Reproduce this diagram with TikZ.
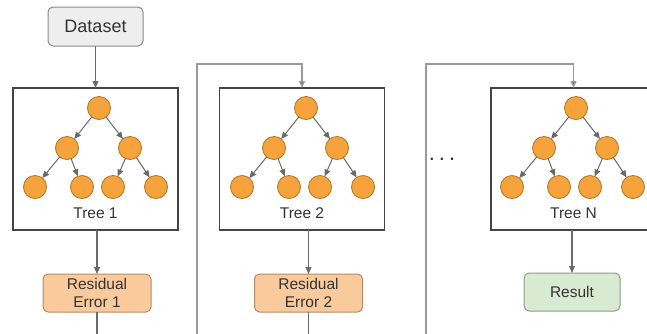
\documentclass[tikz,border=0pt]{standalone}
\usepackage{fontspec}
\setmainfont{Liberation Sans}
\usetikzlibrary{arrows.meta}

\definecolor{txt}{HTML}{333333}
\definecolor{leaffill}{HTML}{F6A33B}
\definecolor{leafline}{HTML}{B57A30}
\definecolor{resfill}{HTML}{F9CB9C}
\definecolor{resline}{HTML}{B58A62}
\definecolor{okfill}{HTML}{D9EAD3}
\definecolor{okline}{HTML}{8E9C89}
\definecolor{dsfill}{HTML}{EEEEEE}
\definecolor{dsline}{HTML}{8A8A8A}
\definecolor{boxline}{HTML}{444444}
\definecolor{wire}{HTML}{6A6A6A}
\definecolor{loopwire}{HTML}{9A9A9A}

\begin{document}
\begin{tikzpicture}[x=1pt,y=-1pt,
  every node/.style={inner sep=0pt, outer sep=0pt, text=txt},
  lbl/.style={font=\fontsize{15.5}{18.5}\selectfont, align=center},
  dsbox/.style={draw=dsline, fill=dsfill, line width=1pt, rounded corners=5pt,
    minimum width=95pt, minimum height=39pt, font=\fontsize{18}{20}\selectfont},
  errbox/.style={lbl, draw=resline, fill=resfill, line width=1pt, rounded corners=5pt,
    minimum width=108pt, minimum height=38pt},
  okbox/.style={lbl, draw=okline, fill=okfill, line width=1pt, rounded corners=5pt,
    minimum width=96pt, minimum height=38pt},
  treebox/.style={draw=boxline, line width=1.3pt, minimum width=165pt, minimum height=142pt},
  leaf/.style={circle, draw=leafline, fill=leaffill, line width=0.9pt, minimum size=23pt},
  flow/.style={draw=wire, line width=1.1pt, -{Triangle[length=7pt,width=6pt]}},
  plain/.style={draw=wire, line width=1.1pt},
  loop/.style={draw=loopwire, line width=1.3pt},
  loopin/.style={loop, -{Triangle[length=7pt,width=6pt,fill=wire]}},
  branch/.style={draw=wire, line width=1pt, -{Triangle[length=7pt,width=6pt]}}
]
\clip (0,0) rectangle (647,333);

% input
\node[dsbox] (ds) at (95.5,26.5) {Dataset};

% the three tree frames
\node[treebox] (t1) at (95.5,159) {};
\node[treebox] (t2) at (302,159) {};
\node[treebox] (tN) at (573.5,159) {};

% binary trees inside the frames
\foreach \t/\R/\cx/\name in {1/99/95.5/Tree 1, 2/306/302/Tree 2, N/576/573.5/Tree N}{
  \node[leaf] (\t-r)  at (\R,108) {};
  \node[leaf] (\t-a)  at (\R-32,148) {};
  \node[leaf] (\t-b)  at (\R+31,148) {};
  \node[leaf] (\t-aa) at (\R-64,187) {};
  \node[leaf] (\t-ab) at (\R-17,187) {};
  \node[leaf] (\t-ba) at (\R+14,187) {};
  \node[leaf] (\t-bb) at (\R+57,187) {};
  \node[lbl] (\t-name) at (\cx,213) {\name};
  \draw[branch] (\t-r) -- (\t-a);
  \draw[branch] (\t-r) -- (\t-b);
  \draw[branch] (\t-a) -- (\t-aa);
  \draw[branch] (\t-a) -- (\t-ab);
  \draw[branch] (\t-b) -- (\t-ba);
  \draw[branch] (\t-b) -- (\t-bb);
}

% outputs
\node[errbox] (r1) at (97,293) {Residual\\Error 1};
\node[errbox] (r2) at (308.5,293) {Residual\\Error 2};
\node[okbox] (res) at (572,292) {Result};

% continuation marks
\node[font=\fontsize{22}{22}\selectfont] (dots) at (442,159) {.\hspace{4pt}.\hspace{4pt}.};

% connectors
\draw[flow] (ds) -- (t1.north);
\draw[flow] (t1.south -| r1.north) -- (r1.north);
\draw[flow] (t2.south -| r2.north) -- (r2.north);
\draw[flow] (tN.south -| res.north) -- (res.north);

\coordinate (r1end) at (97,340);
\coordinate (r2end) at (308.5,340);
\draw[plain] (r1) -- (r1end);
\draw[plain] (r2) -- (r2end);

% feedback lines into the next tree
\coordinate (l2low) at (197,340);
\coordinate (l2top) at (197,64);
\coordinate (lNlow) at (426,340);
\coordinate (lNtop) at (426,64);
\draw[loopin] (l2low) -- (l2top) -| (t2.north);
\draw[loopin] (lNlow) -- (lNtop) -| (tN.north);
\end{tikzpicture}
\end{document}
